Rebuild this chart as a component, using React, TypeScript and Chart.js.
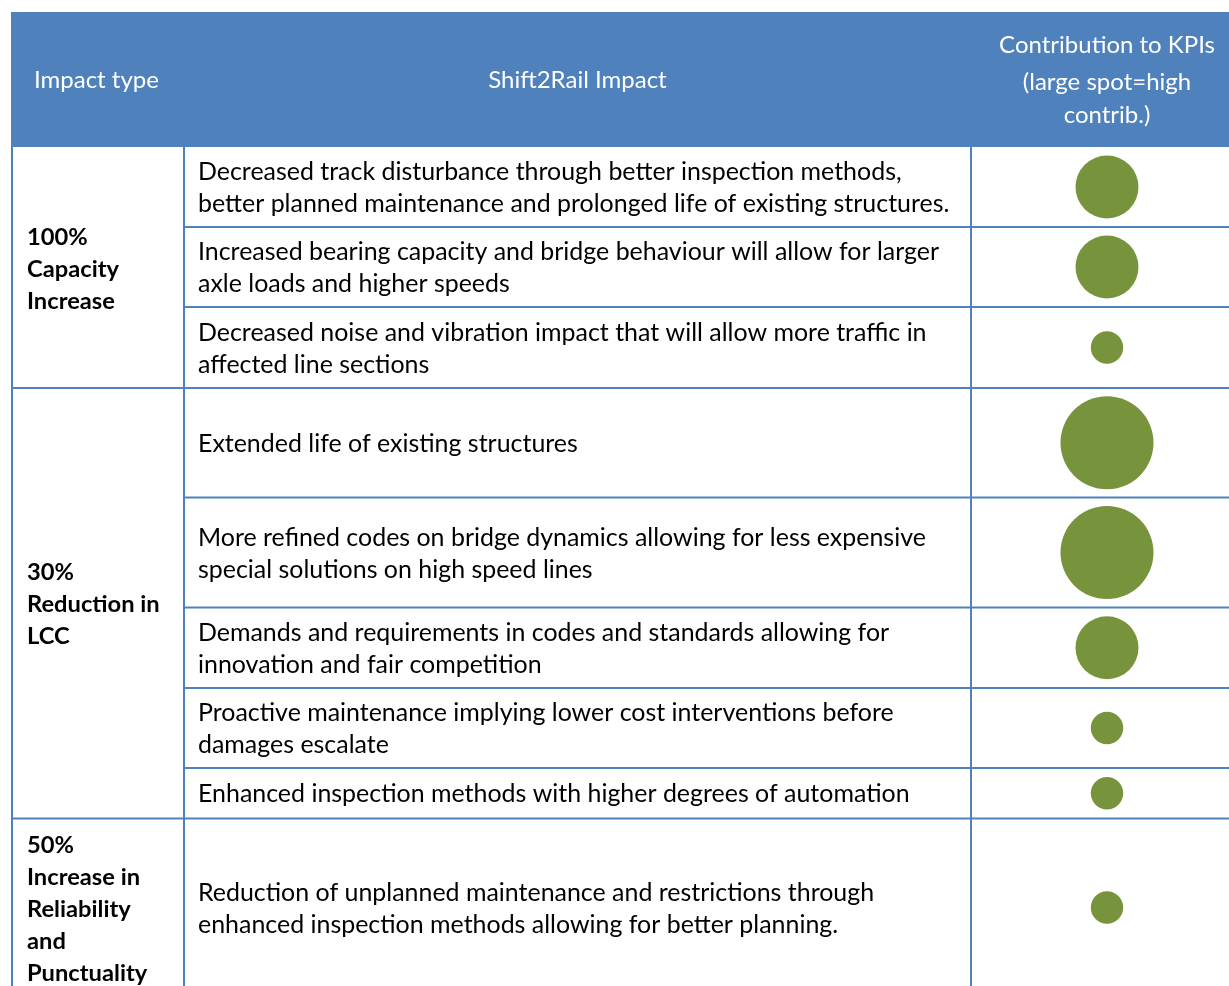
import React, { useEffect, useRef } from "react";
import { Chart, registerables } from "chart.js";

Chart.register(...registerables);

// ---------------- data ----------------
const headerLabels = ["Impact type", "Shift2Rail Impact"];
const kpiHeader = ["Contribution to KPIs", "(large spot=high", "contrib.)"];

const impactTypes: string[][] = [
  ["100%", "Capacity", "Increase"],
  ["30%", "Reduction in", "LCC"],
  ["50%", "Increase in", "Reliability", "and", "Punctuality"],
];
const rowsPerType = [3, 5, 1];

const impacts: string[][] = [
  ["Decreased track disturbance through better inspection methods,", "better planned maintenance and prolonged life of existing structures."],
  ["Increased bearing capacity and bridge behaviour will allow for larger", "axle loads and higher speeds"],
  ["Decreased noise and vibration impact that will allow more traffic in", "affected line sections"],
  ["Extended life of existing structures"],
  ["More refined codes on bridge dynamics allowing for less expensive", "special solutions on high speed lines"],
  ["Demands and requirements in codes and standards allowing for", "innovation and fair competition"],
  ["Proactive maintenance implying lower cost interventions before", "damages escalate"],
  ["Enhanced inspection methods with higher degrees of automation"],
  ["Reduction of unplanned maintenance and restrictions through", "enhanced inspection methods allowing for better planning."],
];

// 1 = small spot, 2 = medium spot, 3 = large spot
const contribution = [2, 2, 1, 3, 3, 2, 1, 1, 1];

// ---------------- layout / style ----------------
const W = 1229;
const H = 986;
const TABLE_LEFT = 11;
const HEADER_TOP = 12;
const BODY_TOP = 147;
const COL_X = [12, 184, 971, 1243];
const ROW_HEIGHTS = [80, 80, 81, 109.5, 110, 80.5, 80, 50.5, 178];
const SPOT_RADIUS: Record<number, number> = { 1: 16.2, 2: 31.5, 3: 46.5 };
const LINE_GAP = 32;
const BASELINE_SHIFT = 9;
const HEADER_BASELINE = 88;
const KPI_BASELINES = [53, 90, 123];
const BLUE = "#4F81BD";
const GREEN = "#77933C";
const FONT = "Lato, Carlito, 'Open Sans', sans-serif";

const rowEdges: number[] = [BODY_TOP];
ROW_HEIGHTS.forEach((h) => rowEdges.push(rowEdges[rowEdges.length - 1] + h));
const rowCenters = ROW_HEIGHTS.map((_, i) => (rowEdges[i] + rowEdges[i + 1]) / 2);
const groupStart: number[] = [];
{
  let acc = 0;
  rowsPerType.forEach((n) => {
    groupStart.push(acc);
    acc += n;
  });
}

function fitSize(ctx: CanvasRenderingContext2D, text: string, weight: string, target: number) {
  ctx.font = `${weight} 100px ${FONT}`;
  return (100 * target) / ctx.measureText(text).width;
}

const tablePlugin = {
  id: "tableGrid",
  beforeDatasetsDraw(chart: any) {
    const ctx: CanvasRenderingContext2D = chart.ctx;
    const xs = chart.scales.x;
    const ys = chart.scales.y;
    const px = (v: number) => xs.getPixelForValue(v);
    const py = (v: number) => ys.getPixelForValue(v);

    const bodySize = fitSize(ctx, impacts[0][1], "400", 752);
    const boldSize = fitSize(ctx, "Capacity", "700", 92);
    const headSize = fitSize(ctx, kpiHeader[0], "400", 216);

    ctx.save();
    // header band
    ctx.fillStyle = BLUE;
    ctx.fillRect(px(TABLE_LEFT), py(HEADER_TOP), px(W) - px(TABLE_LEFT), py(BODY_TOP) - py(HEADER_TOP));

    // header text
    ctx.fillStyle = "#ffffff";
    ctx.font = `400 ${headSize}px ${FONT}`;
    ctx.textBaseline = "alphabetic";
    ctx.textAlign = "left";
    ctx.fillText(headerLabels[0], px(34), py(HEADER_BASELINE));
    ctx.textAlign = "center";
    ctx.fillText(headerLabels[1], px((COL_X[1] + COL_X[2]) / 2), py(HEADER_BASELINE));
    kpiHeader.forEach((t, i) => ctx.fillText(t, px((COL_X[2] + COL_X[3]) / 2), py(KPI_BASELINES[i])));

    // grid lines
    ctx.fillStyle = BLUE;
    const hLine = (x0: number, x1: number, y: number) =>
      ctx.fillRect(px(x0), py(y) - 1, px(x1) - px(x0), 2);
    const vLine = (x: number, y0: number, y1: number) =>
      ctx.fillRect(px(x) - 1, py(y0), 2, py(y1) - py(y0));
    const bottom = rowEdges[rowEdges.length - 1];
    COL_X.slice(0, 3).forEach((x) => vLine(x, BODY_TOP, bottom));
    for (let i = 1; i < rowEdges.length; i++) {
      const isGroupEdge = groupStart.includes(i) || i === rowEdges.length - 1;
      hLine(isGroupEdge ? TABLE_LEFT : COL_X[1], W, rowEdges[i]);
    }

    // impact type labels (bold)
    ctx.fillStyle = "#000000";
    ctx.textAlign = "left";
    ctx.font = `700 ${boldSize}px ${FONT}`;
    impactTypes.forEach((lines, g) => {
      const r0 = groupStart[g];
      const r1 = r0 + rowsPerType[g];
      const c = (rowEdges[r0] + rowEdges[r1]) / 2;
      lines.forEach((t, i) => {
        const y = c + (i - (lines.length - 1) / 2) * LINE_GAP + BASELINE_SHIFT;
        ctx.fillText(t, px(27), py(y));
      });
    });

    // impact descriptions
    ctx.font = `400 ${bodySize}px ${FONT}`;
    impacts.forEach((lines, r) => {
      const c = rowCenters[r];
      lines.forEach((t, i) => {
        const y = c + (i - (lines.length - 1) / 2) * LINE_GAP + BASELINE_SHIFT;
        ctx.fillText(t, px(198), py(y));
      });
    });
    ctx.restore();
  },
};

export default function App() {
  const ref = useRef<HTMLCanvasElement | null>(null);

  useEffect(() => {
    if (!ref.current) return;
    const chart = new Chart(ref.current, {
      type: "bubble",
      data: {
        datasets: [
          {
            label: "Contribution to KPIs",
            data: contribution.map((c, i) => ({
              x: (COL_X[2] + COL_X[3]) / 2,
              y: rowCenters[i],
              r: SPOT_RADIUS[c],
            })),
            backgroundColor: GREEN,
            borderWidth: 0,
            clip: false as any,
          },
        ],
      },
      options: {
        animation: false,
        responsive: false,
        devicePixelRatio: 1,
        events: [],
        layout: { padding: 0, autoPadding: false },
        plugins: { legend: { display: false }, tooltip: { enabled: false }, title: { display: false } },
        scales: {
          x: { type: "linear", min: 0, max: W, display: false },
          y: { type: "linear", min: 0, max: H, reverse: true, display: false },
        },
      },
      plugins: [tablePlugin],
    });
    return () => chart.destroy();
  }, []);

  return (
    <div style={{ position: "fixed", left: 0, top: 0, width: W, height: H, background: "#ffffff", overflow: "hidden" }}>
      <canvas ref={ref} width={W} height={H} style={{ display: "block", width: W, height: H }} />
    </div>
  );
}
